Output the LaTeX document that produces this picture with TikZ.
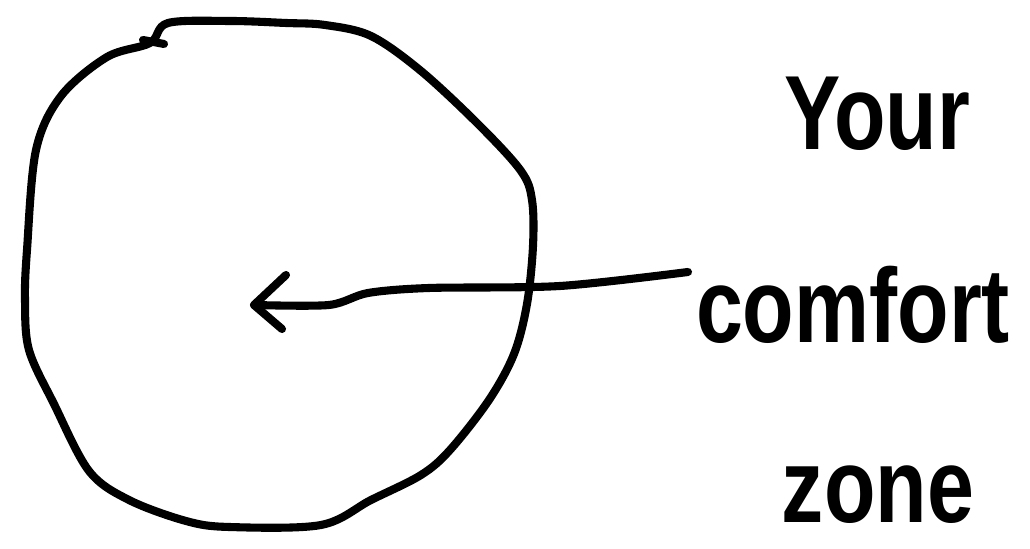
\documentclass[tikz,border=0pt]{standalone}
\usepackage{fontspec}
\setmainfont{Liberation Sans}

\begin{document}
\begin{tikzpicture}[hand/.style={line width=2.3pt, line cap=round, line join=round},
  word/.style={font=\bfseries\fontsize{30}{30}\selectfont, inner sep=0pt, anchor=base, xscale=0.8}]
\useasboundingbox (0,0) rectangle (10.30,5.49);
% the zone
\draw[hand] plot[smooth cycle, tension=0.55] coordinates {(1.68,5.26) (2.30,5.28) (2.86,5.26) (3.25,5.24) (3.71,5.13) (4.21,4.78) (4.79,4.24) (5.21,3.78) (5.32,3.49) (5.33,3.03) (5.27,2.45) (5.14,1.95) (4.89,1.49) (4.50,0.99) (4.21,0.74) (3.71,0.49) (3.21,0.24) (2.29,0.22) (1.86,0.28) (1.29,0.49) (0.89,0.78) (0.54,1.45) (0.29,1.99) (0.25,2.49) (0.27,2.99) (0.36,3.99) (0.61,4.53) (1.07,4.92) (1.50,5.06)};
\draw[hand] (1.43,5.09) -- (1.64,5.05);
% label
\node[word] (your) at (8.77,3.99) {Your};
\node[word] (comfort) at (8.53,2.06) {comfort};
\node[word] (zone) at (8.78,0.26) {zone};
% arrow
\coordinate (tail) at (6.88,2.77);
\coordinate (tip) at (2.54,2.44);
\draw[hand] plot[smooth, tension=0.5] coordinates {(tail) (5.60,2.63) (4.29,2.61) (3.68,2.56) (3.29,2.44) (tip)};
\draw[hand] (2.86,2.74) -- (tip) -- (2.82,2.20);
\end{tikzpicture}
\end{document}
